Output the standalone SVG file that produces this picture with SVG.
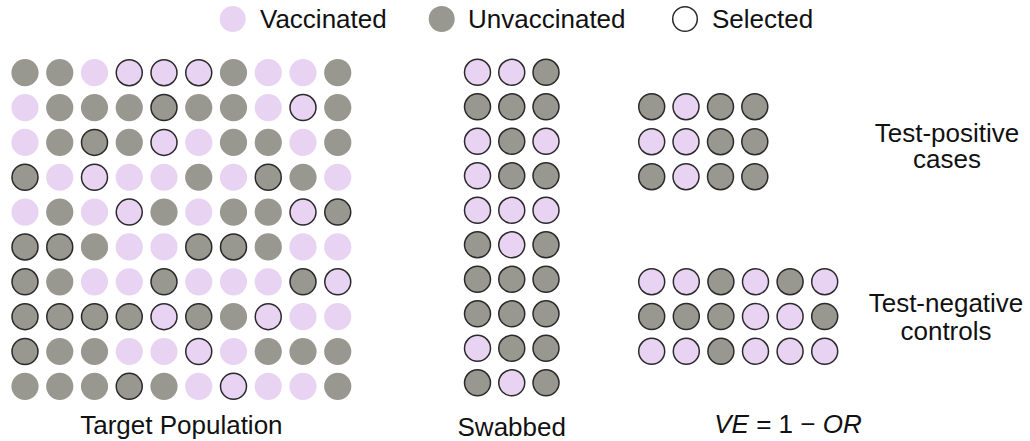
<svg xmlns="http://www.w3.org/2000/svg" width="1030" height="441" viewBox="0 0 1030 441">
<style>
.v{fill:#E8D3F3}
.u{fill:#989890}
.s{stroke:#2a2a2a;stroke-width:1.5}
.w{fill:#ffffff;stroke:#2a2a2a;stroke-width:1.5}
text{font-family:"Liberation Sans","DejaVu Sans",sans-serif;font-size:26px;fill:#111}
</style>
<rect width="1030" height="441" fill="#ffffff"/>
<g id="legend">
<circle class="v" cx="232.7" cy="19" r="13"/>
<text x="260" y="28">Vaccinated</text>
<circle class="u" cx="441.7" cy="19" r="13"/>
<text x="468" y="28">Unvaccinated</text>
<circle class="w" cx="685" cy="19" r="12.3"/>
<text x="712" y="28">Selected</text>
</g>
<g id="target-population">
<!-- row 1 -->
<circle class="u" cx="25" cy="72.7" r="13.6"/>
<circle class="u" cx="59.75" cy="72.7" r="13.6"/>
<circle class="v" cx="94.5" cy="72.7" r="13.6"/>
<circle class="v s" cx="129.25" cy="72.7" r="13"/>
<circle class="v s" cx="164" cy="72.7" r="13"/>
<circle class="v s" cx="198.75" cy="72.7" r="13"/>
<circle class="u" cx="233.5" cy="72.7" r="13.6"/>
<circle class="v" cx="268.25" cy="72.7" r="13.6"/>
<circle class="v" cx="303" cy="72.7" r="13.6"/>
<circle class="u" cx="337.75" cy="72.7" r="13.6"/>
<!-- row 2 -->
<circle class="v" cx="25" cy="107.55" r="13.6"/>
<circle class="u" cx="59.75" cy="107.55" r="13.6"/>
<circle class="u" cx="94.5" cy="107.55" r="13.6"/>
<circle class="u" cx="129.25" cy="107.55" r="13.6"/>
<circle class="u s" cx="164" cy="107.55" r="13"/>
<circle class="u" cx="198.75" cy="107.55" r="13.6"/>
<circle class="u" cx="233.5" cy="107.55" r="13.6"/>
<circle class="v" cx="268.25" cy="107.55" r="13.6"/>
<circle class="v s" cx="303" cy="107.55" r="13"/>
<circle class="u" cx="337.75" cy="107.55" r="13.6"/>
<!-- row 3 -->
<circle class="v" cx="25" cy="142.4" r="13.6"/>
<circle class="u" cx="59.75" cy="142.4" r="13.6"/>
<circle class="u s" cx="94.5" cy="142.4" r="13"/>
<circle class="u" cx="129.25" cy="142.4" r="13.6"/>
<circle class="v s" cx="164" cy="142.4" r="13"/>
<circle class="v" cx="198.75" cy="142.4" r="13.6"/>
<circle class="u" cx="233.5" cy="142.4" r="13.6"/>
<circle class="u" cx="268.25" cy="142.4" r="13.6"/>
<circle class="v" cx="303" cy="142.4" r="13.6"/>
<circle class="u" cx="337.75" cy="142.4" r="13.6"/>
<!-- row 4 -->
<circle class="u s" cx="25" cy="177.25" r="13"/>
<circle class="v" cx="59.75" cy="177.25" r="13.6"/>
<circle class="v s" cx="94.5" cy="177.25" r="13"/>
<circle class="v" cx="129.25" cy="177.25" r="13.6"/>
<circle class="v" cx="164" cy="177.25" r="13.6"/>
<circle class="u" cx="198.75" cy="177.25" r="13.6"/>
<circle class="v" cx="233.5" cy="177.25" r="13.6"/>
<circle class="u s" cx="268.25" cy="177.25" r="13"/>
<circle class="u" cx="303" cy="177.25" r="13.6"/>
<circle class="v" cx="337.75" cy="177.25" r="13.6"/>
<!-- row 5 -->
<circle class="v" cx="25" cy="212.1" r="13.6"/>
<circle class="u" cx="59.75" cy="212.1" r="13.6"/>
<circle class="v" cx="94.5" cy="212.1" r="13.6"/>
<circle class="v s" cx="129.25" cy="212.1" r="13"/>
<circle class="u" cx="164" cy="212.1" r="13.6"/>
<circle class="v" cx="198.75" cy="212.1" r="13.6"/>
<circle class="u" cx="233.5" cy="212.1" r="13.6"/>
<circle class="u" cx="268.25" cy="212.1" r="13.6"/>
<circle class="v s" cx="303" cy="212.1" r="13"/>
<circle class="u s" cx="337.75" cy="212.1" r="13"/>
<!-- row 6 -->
<circle class="u s" cx="25" cy="246.95" r="13"/>
<circle class="u s" cx="59.75" cy="246.95" r="13"/>
<circle class="u" cx="94.5" cy="246.95" r="13.6"/>
<circle class="v" cx="129.25" cy="246.95" r="13.6"/>
<circle class="v" cx="164" cy="246.95" r="13.6"/>
<circle class="u s" cx="198.75" cy="246.95" r="13"/>
<circle class="u s" cx="233.5" cy="246.95" r="13"/>
<circle class="u" cx="268.25" cy="246.95" r="13.6"/>
<circle class="v" cx="303" cy="246.95" r="13.6"/>
<circle class="v" cx="337.75" cy="246.95" r="13.6"/>
<!-- row 7 -->
<circle class="u s" cx="25" cy="281.8" r="13"/>
<circle class="u" cx="59.75" cy="281.8" r="13.6"/>
<circle class="v" cx="94.5" cy="281.8" r="13.6"/>
<circle class="v" cx="129.25" cy="281.8" r="13.6"/>
<circle class="u s" cx="164" cy="281.8" r="13"/>
<circle class="v" cx="198.75" cy="281.8" r="13.6"/>
<circle class="v" cx="233.5" cy="281.8" r="13.6"/>
<circle class="v" cx="268.25" cy="281.8" r="13.6"/>
<circle class="u s" cx="303" cy="281.8" r="13"/>
<circle class="v s" cx="337.75" cy="281.8" r="13"/>
<!-- row 8 -->
<circle class="u s" cx="25" cy="316.65" r="13"/>
<circle class="u s" cx="59.75" cy="316.65" r="13"/>
<circle class="u s" cx="94.5" cy="316.65" r="13"/>
<circle class="u s" cx="129.25" cy="316.65" r="13"/>
<circle class="v s" cx="164" cy="316.65" r="13"/>
<circle class="u s" cx="198.75" cy="316.65" r="13"/>
<circle class="u" cx="233.5" cy="316.65" r="13.6"/>
<circle class="v s" cx="268.25" cy="316.65" r="13"/>
<circle class="v" cx="303" cy="316.65" r="13.6"/>
<circle class="v" cx="337.75" cy="316.65" r="13.6"/>
<!-- row 9 -->
<circle class="u s" cx="25" cy="351.5" r="13"/>
<circle class="u" cx="59.75" cy="351.5" r="13.6"/>
<circle class="u" cx="94.5" cy="351.5" r="13.6"/>
<circle class="v" cx="129.25" cy="351.5" r="13.6"/>
<circle class="v" cx="164" cy="351.5" r="13.6"/>
<circle class="v s" cx="198.75" cy="351.5" r="13"/>
<circle class="v" cx="233.5" cy="351.5" r="13.6"/>
<circle class="u" cx="268.25" cy="351.5" r="13.6"/>
<circle class="u" cx="303" cy="351.5" r="13.6"/>
<circle class="u" cx="337.75" cy="351.5" r="13.6"/>
<!-- row 10 -->
<circle class="u" cx="25" cy="386.35" r="13.6"/>
<circle class="u" cx="59.75" cy="386.35" r="13.6"/>
<circle class="u" cx="94.5" cy="386.35" r="13.6"/>
<circle class="u s" cx="129.25" cy="386.35" r="13"/>
<circle class="u" cx="164" cy="386.35" r="13.6"/>
<circle class="v" cx="198.75" cy="386.35" r="13.6"/>
<circle class="v s" cx="233.5" cy="386.35" r="13"/>
<circle class="v" cx="268.25" cy="386.35" r="13.6"/>
<circle class="v" cx="303" cy="386.35" r="13.6"/>
<circle class="u" cx="337.75" cy="386.35" r="13.6"/>
<text x="181.4" y="434" text-anchor="middle">Target Population</text>
</g>
<g id="swabbed">
<circle class="v s" cx="477.5" cy="72.3" r="13"/>
<circle class="v s" cx="511.75" cy="72.3" r="13"/>
<circle class="u s" cx="546" cy="72.3" r="13"/>
<circle class="u s" cx="477.5" cy="106.8" r="13"/>
<circle class="u s" cx="511.75" cy="106.8" r="13"/>
<circle class="u s" cx="546" cy="106.8" r="13"/>
<circle class="v s" cx="477.5" cy="141.3" r="13"/>
<circle class="u s" cx="511.75" cy="141.3" r="13"/>
<circle class="v s" cx="546" cy="141.3" r="13"/>
<circle class="v s" cx="477.5" cy="175.8" r="13"/>
<circle class="u s" cx="511.75" cy="175.8" r="13"/>
<circle class="u s" cx="546" cy="175.8" r="13"/>
<circle class="v s" cx="477.5" cy="210.3" r="13"/>
<circle class="v s" cx="511.75" cy="210.3" r="13"/>
<circle class="v s" cx="546" cy="210.3" r="13"/>
<circle class="u s" cx="477.5" cy="244.8" r="13"/>
<circle class="v s" cx="511.75" cy="244.8" r="13"/>
<circle class="u s" cx="546" cy="244.8" r="13"/>
<circle class="u s" cx="477.5" cy="279.3" r="13"/>
<circle class="u s" cx="511.75" cy="279.3" r="13"/>
<circle class="u s" cx="546" cy="279.3" r="13"/>
<circle class="u s" cx="477.5" cy="313.8" r="13"/>
<circle class="u s" cx="511.75" cy="313.8" r="13"/>
<circle class="u s" cx="546" cy="313.8" r="13"/>
<circle class="v s" cx="477.5" cy="348.3" r="13"/>
<circle class="u s" cx="511.75" cy="348.3" r="13"/>
<circle class="u s" cx="546" cy="348.3" r="13"/>
<circle class="u s" cx="477.5" cy="382.8" r="13"/>
<circle class="v s" cx="511.75" cy="382.8" r="13"/>
<circle class="u s" cx="546" cy="382.8" r="13"/>
<text x="511.75" y="436" text-anchor="middle">Swabbed</text>
</g>
<g id="test-positive-cases">
<circle class="u s" cx="651.7" cy="106.7" r="13"/>
<circle class="v s" cx="686" cy="106.7" r="13"/>
<circle class="u s" cx="720.5" cy="106.7" r="13"/>
<circle class="u s" cx="754.8" cy="106.7" r="13"/>
<circle class="v s" cx="651.7" cy="141.7" r="13"/>
<circle class="v s" cx="686" cy="141.7" r="13"/>
<circle class="u s" cx="720.5" cy="141.7" r="13"/>
<circle class="u s" cx="754.8" cy="141.7" r="13"/>
<circle class="u s" cx="651.7" cy="176.7" r="13"/>
<circle class="v s" cx="686" cy="176.7" r="13"/>
<circle class="u s" cx="720.5" cy="176.7" r="13"/>
<circle class="u s" cx="754.8" cy="176.7" r="13"/>
<text x="947" y="142" text-anchor="middle">Test-positive</text>
<text x="947" y="168" text-anchor="middle">cases</text>
</g>
<g id="test-negative-controls">
<circle class="v s" cx="651.7" cy="281.7" r="13"/>
<circle class="v s" cx="686.3" cy="281.7" r="13"/>
<circle class="u s" cx="720.9" cy="281.7" r="13"/>
<circle class="v s" cx="755.5" cy="281.7" r="13"/>
<circle class="u s" cx="790.1" cy="281.7" r="13"/>
<circle class="v s" cx="824.7" cy="281.7" r="13"/>
<circle class="u s" cx="651.7" cy="316.5" r="13"/>
<circle class="u s" cx="686.3" cy="316.5" r="13"/>
<circle class="u s" cx="720.9" cy="316.5" r="13"/>
<circle class="v s" cx="755.5" cy="316.5" r="13"/>
<circle class="v s" cx="790.1" cy="316.5" r="13"/>
<circle class="u s" cx="824.7" cy="316.5" r="13"/>
<circle class="v s" cx="651.7" cy="351.3" r="13"/>
<circle class="v s" cx="686.3" cy="351.3" r="13"/>
<circle class="u s" cx="720.9" cy="351.3" r="13"/>
<circle class="v s" cx="755.5" cy="351.3" r="13"/>
<circle class="v s" cx="790.1" cy="351.3" r="13"/>
<circle class="v s" cx="824.7" cy="351.3" r="13"/>
<text x="946" y="312" text-anchor="middle">Test-negative</text>
<text x="946" y="340" text-anchor="middle">controls</text>
</g>
<g id="formula">
<text x="788" y="433" text-anchor="middle"><tspan font-style="italic">VE</tspan> = 1 − <tspan font-style="italic">OR</tspan></text>
</g>
</svg>
